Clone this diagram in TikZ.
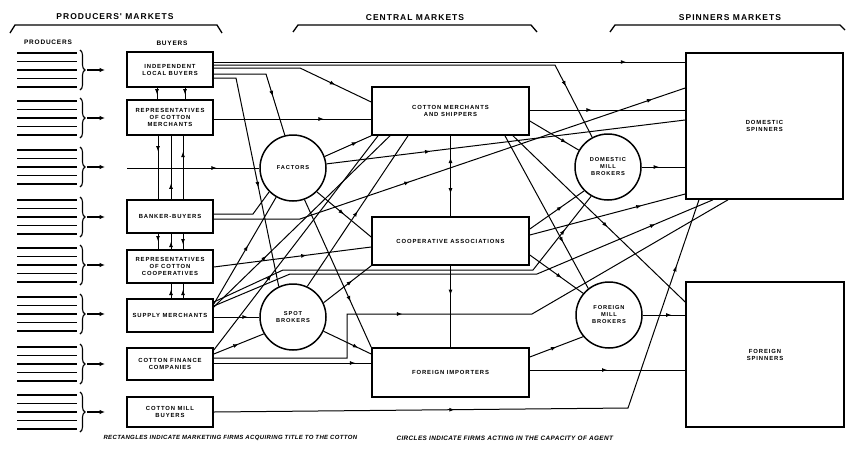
\documentclass[tikz,border=0pt]{standalone}
\usepackage{fontspec}
\setmainfont{Liberation Sans}
\newfontfamily\labfont[LetterSpace=15]{Liberation Sans}
\newfontfamily\hdrfont[LetterSpace=12]{Liberation Sans}
\newfontfamily\footfont[LetterSpace=6]{Liberation Sans}
\usetikzlibrary{arrows.meta,decorations.markings,decorations.pathreplacing}
\begin{document}
\begin{tikzpicture}[x=1pt,y=-1pt,
  bx/.style={draw, line width=1.6pt, align=center, inner sep=1pt, font=\labfont\bfseries\fontsize{5.9}{7}\selectfont},
  cir/.style={draw, circle, line width=1.5pt, minimum size=66pt, inner sep=0pt, align=center, font=\labfont\bfseries\fontsize{5.7}{7}\selectfont},
  fl/.style={draw, line width=1pt},
  am/.style={postaction={decorate,decoration={markings,mark=at position #1 with {\arrow{Latex[length=5.5pt,width=4pt]}}}}},
  ar/.style={postaction={decorate,decoration={markings,mark=at position #1 with {\arrowreversed{Latex[length=5.5pt,width=4pt]}}}}},
  hdr/.style={font=\hdrfont\bfseries\fontsize{8.5}{9.5}\selectfont},
  sub/.style={font=\hdrfont\bfseries\fontsize{6.5}{7}\selectfont},
  brk/.style={line width=1.3pt, line join=round},
  prod/.style={line width=1.1pt},
  foot/.style={font=\footfont\bfseries\itshape\fontsize{6.4}{7}\selectfont, anchor=west},
  foota/.style={font=\footfont\bfseries\itshape\fontsize{6.0}{7}\selectfont, anchor=west},
]
\useasboundingbox (0,0) rectangle (848,453);
\fill[white] (0,0) rectangle (848,453);

% headers
\node[hdr] (h1) at (115,17) {PRODUCERS' MARKETS};
\node[hdr] (h2) at (415,18) {CENTRAL MARKETS};
\node[hdr] (h3) at (730,18) {SPINNERS MARKETS};
\draw[brk] (10,33) -- (15,25) -- (217,25) -- (222,33);
\draw[brk] (293,32) -- (298,25) -- (531,25) -- (537,32);
\draw[brk] (610,32) -- (615,25) -- (840,25) -- (845,30);
\node[sub] (hp) at (48,42) {PRODUCERS};
\node[sub] (hb) at (172,43) {BUYERS};

% producers
\foreach \c [count=\i] in {70,118,167,217,265,314,364,412} {
  \foreach \d in {-17,-8.5,0,8.5,17} \draw[prod] (17,\c+\d) -- (77,\c+\d);
  \draw[prod, decorate, decoration={brace, amplitude=5pt}] (80,\c-20) -- (80,\c+20);
  \coordinate (p\i) at (87,\c);
  \coordinate (q\i) at (105,\c);
  \draw[prod, -{Latex[length=5.5pt,width=4.5pt]}] (p\i) -- (q\i);
}
\coordinate (r3) at (127,168);

% buyers
\node[bx, minimum width=86pt, minimum height=35pt] (ILB) at (170,69.5) {INDEPENDENT\\LOCAL BUYERS};
\node[bx, minimum width=86pt, minimum height=35pt] (RCM) at (170,117.5) {REPRESENTATIVES\\OF COTTON\\MERCHANTS};
\node[bx, minimum width=86pt, minimum height=33pt] (BB) at (170,216.5) {BANKER-BUYERS};
\node[bx, minimum width=86pt, minimum height=33pt] (RC) at (170,266.5) {REPRESENTATIVES\\OF COTTON\\COOPERATIVES};
\node[bx, minimum width=86pt, minimum height=33pt] (SM) at (170,315.5) {SUPPLY MERCHANTS};
\node[bx, minimum width=86pt, minimum height=32pt] (CFC) at (170,364) {COTTON FINANCE\\COMPANIES};
\node[bx, minimum width=86pt, minimum height=30pt] (CMB) at (170,412) {COTTON MILL\\BUYERS};

% central
\node[bx, minimum width=157pt, minimum height=48pt] (CMS) at (450.5,111) {COTTON MERCHANTS\\AND SHIPPERS};
\node[bx, minimum width=157pt, minimum height=48pt] (CA) at (450.5,241) {COOPERATIVE ASSOCIATIONS};
\node[bx, minimum width=157pt, minimum height=49pt] (FI) at (450.5,372.5) {FOREIGN IMPORTERS};

% spinners
\node[bx, minimum width=157pt, minimum height=146pt] (DS) at (764.5,126) {DOMESTIC\\SPINNERS};
\node[bx, minimum width=158pt, minimum height=145pt] (FS) at (765,354.5) {FOREIGN\\SPINNERS};

% agents
\node[cir] (F) at (293,168) {FACTORS};
\node[cir] (SB) at (293,317) {SPOT\\BROKERS};
\node[cir] (DMB) at (608,167) {DOMESTIC\\MILL\\BROKERS};
\node[cir] (FMB) at (609,315) {FOREIGN\\MILL\\BROKERS};

% verticals among buyers
\draw[fl,am=0.6] (ILB.south -| 157,0) -- (RCM.north -| 157,0);
\draw[fl,am=0.6] (ILB.south -| 185,0) -- (RCM.north -| 185,0);
\draw[fl,am=0.25] (RCM.south -| 158,0) -- (BB.north -| 158,0);
\draw[fl,am=0.25] (BB.north -| 171,0) -- (RCM.south -| 171,0);
\draw[fl,am=0.75] (BB.north -| 183,0) -- (RCM.south -| 183,0);
\draw[fl,am=0.5] (BB.south -| 158,0) -- (RC.north -| 158,0);
\draw[fl,am=0.5] (RC.north -| 171,0) -- (BB.south -| 171,0);
\draw[fl,am=0.7] (BB.south -| 183,0) -- (RC.north -| 183,0);
\draw[fl,am=0.6] (SM.north -| 171,0) -- (RC.south -| 171,0);
\draw[fl,am=0.6] (SM.north -| 183,0) -- (RC.south -| 183,0);

% from buyers
\draw[fl,am=0.875] (ILB.east |- 0,62) -- (DS.west |- 0,62);
\draw[fl,am=0.865] (ILB.east |- 0,65) -- (555,65) -- (DMB.118);
\draw[fl,am=0.76] (ILB.east |- 0,68) -- (300,68) -- (CMS.west |- 0,102);
\draw[fl,am=0.65] (ILB.east |- 0,74) -- (266,74) -- (F.104);
\draw[fl,am=0.57] (ILB.east |- 0,78) -- (236,78) -- (SB.115);
\draw[fl,am=0.7] (RCM.east |- 0,119) -- (CMS.west |- 0,119);
\draw[fl,am=0.68] (r3) -- (F.west);
\draw[fl] (BB.east |- 0,214) -- (253,214) -- (F.225);
\draw[fl,am=0.41,am=0.93] (BB.east |- 0,219) -- (300,219) -- (DS.west |- 0,88);
\draw[fl,am=0.55] (SM.east |- 0,304) -- (F.240);
\draw[fl,am=0.3] (SM.east |- 0,307) -- (CMS.south -| 390,0);
\draw[fl,am=0.75] (SM.east |- 0,317) -- (SB.west);
\draw[fl,am=0.9] (SM.east |- 0,302) -- (283,270) -- (533,270) -- (DMB.-120);
\draw[fl,am=0.88] (SM.east |- 0,306) -- (290,274) -- (537,274) -- (DS.south -| 713,0);
\draw[fl,am=0.59] (RC.east |- 0,267) -- (CA.west |- 0,247);
\draw[fl,am=0.35] (CFC.east |- 0,350) -- (CMS.south -| 378,0);
\draw[fl,am=0.5] (CFC.east |- 0,354) -- (SB.210);
\draw[fl,am=0.395] (CFC.east |- 0,358) -- (347,358) -- (347,314) -- (532,314) -- (DS.south -| 728,0);
\draw[fl,am=0.9] (CFC.east |- 0,363) -- (FI.west |- 0,363);
\draw[fl,am=0.38,am=0.89] (CMB.east) -- (628,408) -- (DS.south -| 699,0);

% from agents
\draw[fl,am=0.7] (F.20) -- (CMS.south west);
\draw[fl,am=0.29] (F.7) -- (DS.west |- 0,120);
\draw[fl,am=0.5] (F.-45) -- (CA.west |- 0,237);
\draw[fl,am=0.69] (F.-70) -- (FI.north west);
\draw[fl,am=0.5] (SB.65) -- (CMS.south -| 408,0);
\draw[fl,am=0.6] (SB.25) -- (CA.south west);
\draw[fl,am=0.73] (SB.-25) -- (FI.west |- 0,354);
\draw[fl,am=0.4] (DMB.east) -- (DS.west |- DMB.east);
\draw[fl,am=0.68] (FMB.east) -- (FS.west |- FMB.east);

% from central markets
\draw[fl,ar=0.27,am=0.72] (CMS.south) -- (CA.north);
\draw[fl,am=0.36] (CA.south) -- (FI.north);
\draw[fl,am=0.4] (CMS.east |- 0,110) -- (DS.west |- 0,110);
\draw[fl,am=0.75] (CMS.east |- 0,121) -- (DMB.150);
\draw[fl,am=0.7] (CMS.south -| 505,0) -- (FMB.128);
\draw[fl,am=0.55] (CMS.south -| 513,0) -- (FS.west |- 0,302);
\draw[fl,am=0.6] (CA.east |- 0,229) -- (DMB.-135);
\draw[fl,am=0.72] (CA.east |- 0,235) -- (DS.west |- 0,194);
\draw[fl,am=0.6] (CA.east |- 0,255) -- (FMB.140);
\draw[fl,am=0.5] (FI.east |- 0,357) -- (FMB.-140);
\draw[fl,am=0.5] (FI.east |- 0,370) -- (FS.west |- 0,370);

% notes
\node[foota] (n1) at (100,438) {RECTANGLES INDICATE MARKETING FIRMS ACQUIRING TITLE TO THE COTTON};
\node[foot] (n2) at (393,438) {CIRCLES INDICATE FIRMS ACTING IN THE CAPACITY OF AGENT};
\end{tikzpicture}
\end{document}
